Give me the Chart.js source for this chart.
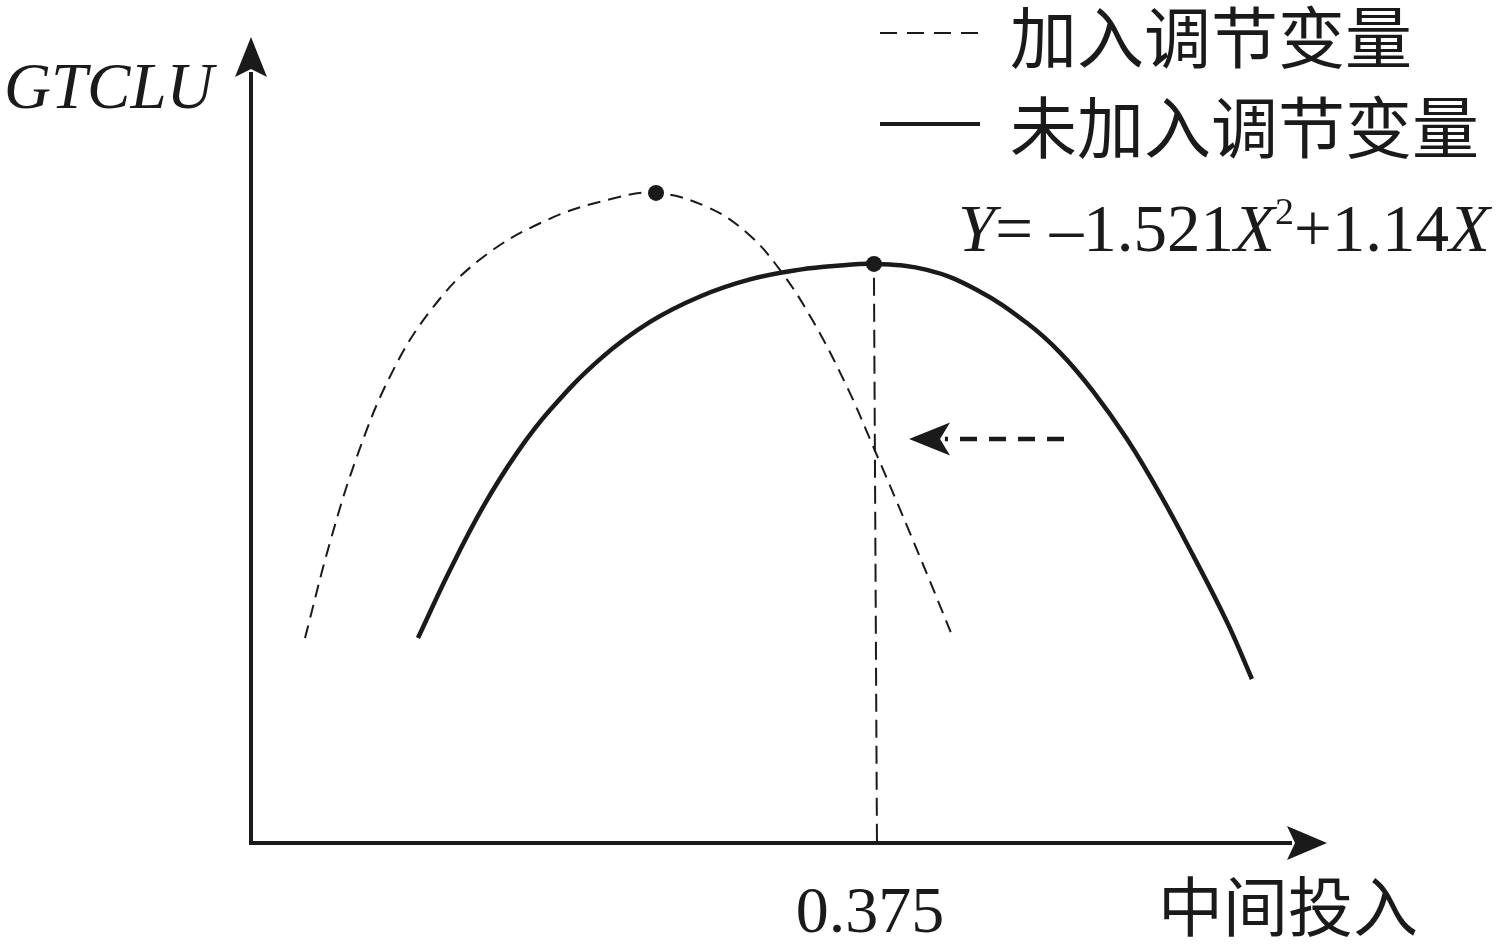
<!DOCTYPE html>
<html>
<head>
<meta charset="utf-8">
<script src="https://cdn.jsdelivr.net/npm/chart.js@4"></script>
<style>
  html, body { margin: 0; padding: 0; background: #ffffff; }
  #wrap { width: 1502px; height: 952px; position: relative; }
</style>
</head>
<body>
<div id="wrap"><canvas id="myChart"></canvas></div>
<script>
// curve without moderator (solid), Y = -1.521X^2 + 1.14X shape as drawn
const solidX = [0.1005, 0.1198, 0.1396, 0.1601, 0.1800, 0.2101, 0.2402, 0.2703, 0.3004, 0.3305, 0.3545, 0.375,
                0.4069, 0.4370, 0.4671, 0.4870, 0.5068, 0.5273, 0.5472, 0.5670, 0.5875, 0.6025];
const solidY = [0.0756, 0.1007, 0.1239, 0.1439, 0.1597, 0.1785, 0.1922, 0.2016, 0.2079, 0.2115, 0.2130, 0.2136,
                0.2114, 0.2040, 0.1918, 0.1809, 0.1667, 0.1490, 0.1287, 0.1062, 0.0815, 0.0605];

// curve with moderator (dashed)
const dashedX = [0.0325, 0.0476, 0.0638, 0.0837, 0.1077, 0.1378, 0.1782, 0.2179, 0.2438, 0.2745, 0.2986,
                 0.3184, 0.3383, 0.3588, 0.3744, 0.3949, 0.4147, 0.4226];
const dashedY = [0.0756, 0.1110, 0.1426, 0.1721, 0.1961, 0.2152, 0.2298, 0.2377, 0.2398, 0.2346, 0.2250,
                 0.2114, 0.1925, 0.1682, 0.1464, 0.1169, 0.0876, 0.0756];

// turning points
const peakX = [0.2438, 0.375];
const peakY = [0.2398, 0.2136];

// guide line down to the axis and the shift arrow
const guideX = [0.375, 0.3768];
const guideY = [0.2085, 0];
const shiftX = [0.4894, 0.4177];
const shiftY = [0.149, 0.149];
const shiftTip = [0.3961, 0.149];

const xTickValues = [0.375];
const xTickLabels = ['0.375'];
const yAxisTitle = 'GTCLU';
const xAxisTitle = '中间投入';
const legendLabels = ['加入调节变量', '未加入调节变量'];

const INK = '#1a1a1a';
const SERIF = '"Liberation Serif", "DejaVu Serif", serif';
const CJK = '"Noto Sans CJK SC", "Noto Sans", sans-serif';

const toPts = (xs, ys) => xs.map((x, i) => ({x: x, y: ys[i]}));

function arrowHead(ctx, tx, ty, dir, len, half, notch) {
    // dir: unit vector pointing toward the tip
    const [dx, dy] = dir;
    const nx = -dy, ny = dx;
    const bx = tx - dx * len, by = ty - dy * len;
    ctx.beginPath();
    ctx.moveTo(tx, ty);
    ctx.lineTo(bx + nx * half, by + ny * half);
    ctx.lineTo(tx - dx * notch, ty - dy * notch);
    ctx.lineTo(bx - nx * half, by - ny * half);
    ctx.closePath();
    ctx.fill();
}

const decorPlugin = {
    id: 'decor',
    afterDraw(chart) {
        const ctx = chart.ctx;
        const xs = chart.scales.x, ys = chart.scales.y;
        const area = chart.chartArea;
        const ox = xs.getPixelForValue(0), oy = ys.getPixelForValue(0);
        ctx.save();
        ctx.fillStyle = INK;
        ctx.strokeStyle = INK;

        // axes
        ctx.lineWidth = 4;
        ctx.setLineDash([]);
        ctx.lineJoin = 'miter';
        ctx.beginPath();
        ctx.moveTo(ox, area.top + 35);
        ctx.lineTo(ox, oy);
        ctx.lineTo(area.right - 35, oy);
        ctx.stroke();
        arrowHead(ctx, ox, area.top, [0, -1], 40, 16, 32);
        arrowHead(ctx, area.right, oy, [1, 0], 40, 17, 32);

        // shift arrow head
        arrowHead(ctx, xs.getPixelForValue(shiftTip[0]), ys.getPixelForValue(shiftTip[1]), [-1, 0], 41, 16.5, 31);

        // tick label
        ctx.font = '66px ' + SERIF;
        ctx.textBaseline = 'alphabetic';
        ctx.textAlign = 'center';
        xTickValues.forEach((v, i) => {
            ctx.fillText(xTickLabels[i], xs.getPixelForValue(v) - 4, oy + 89);
        });

        // axis titles
        ctx.textAlign = 'left';
        ctx.font = 'italic 65px ' + SERIF;
        ctx.fillText(yAxisTitle, 4, 108);
        ctx.font = '65px ' + CJK;
        ctx.textBaseline = 'middle';
        ctx.fillText(xAxisTitle, 1158, 906);

        // legend
        ctx.lineWidth = 2;
        ctx.setLineDash([17, 10]);
        ctx.beginPath();
        ctx.moveTo(880, 33);
        ctx.lineTo(980, 33);
        ctx.stroke();
        ctx.lineWidth = 4;
        ctx.setLineDash([]);
        ctx.beginPath();
        ctx.moveTo(880, 124);
        ctx.lineTo(980, 124);
        ctx.stroke();
        ctx.font = '67px ' + CJK;
        ctx.fillText(legendLabels[0], 1010, 38);
        ctx.fillText(legendLabels[1], 1010, 128);

        // equation
        ctx.textBaseline = 'alphabetic';
        let x = 958;
        const base = 251;
        const piece = (txt, font, dy) => {
            ctx.font = font;
            ctx.fillText(txt, x, base + (dy || 0));
            x += ctx.measureText(txt).width;
        };
        piece('Y', 'italic 67px ' + SERIF);
        piece('= \u2013', '67px ' + SERIF);
        piece('1.521', '67px ' + SERIF);
        piece('X', 'italic 67px ' + SERIF);
        piece('2', '38px ' + SERIF, -27);
        piece('+1.14', '67px ' + SERIF);
        piece('X', 'italic 67px ' + SERIF);

        ctx.restore();
    }
};

const ctx1 = document.getElementById('myChart').getContext('2d');

const myChart = new Chart(ctx1, {
    type: 'scatter',
    data: {
        datasets: [
            {
                label: legendLabels[1],
                data: toPts(solidX, solidY),
                showLine: true,
                borderColor: INK,
                borderWidth: 4.5,
                pointRadius: 0,
                tension: 0.4,
                clip: false
            },
            {
                label: legendLabels[0],
                data: toPts(dashedX, dashedY),
                showLine: true,
                borderColor: INK,
                borderWidth: 2,
                borderDash: [13, 8],
                pointRadius: 0,
                tension: 0.4,
                clip: false
            },
            {
                label: 'guide',
                data: toPts(guideX, guideY),
                showLine: true,
                borderColor: INK,
                borderWidth: 2,
                borderDash: [18, 8],
                pointRadius: 0,
                clip: false
            },
            {
                label: 'shift',
                data: toPts(shiftX, shiftY),
                showLine: true,
                borderColor: INK,
                borderWidth: 4.5,
                borderDash: [17, 12],
                pointRadius: 0,
                clip: false
            },
            {
                label: 'peaks',
                data: toPts(peakX, peakY),
                showLine: false,
                pointRadius: 8,
                pointBackgroundColor: INK,
                pointBorderColor: INK,
                pointBorderWidth: 0,
                clip: false
            }
        ]
    },
    options: {
        responsive: true,
        maintainAspectRatio: false,
        animation: false,
        layout: {
            padding: {left: 251, right: 175, top: 37, bottom: 109}
        },
        plugins: {
            legend: { display: false },
            tooltip: { enabled: false },
            title: { display: false }
        },
        scales: {
            x: {
                type: 'linear',
                display: false,
                min: 0,
                max: 0.6477
            },
            y: {
                type: 'linear',
                display: false,
                min: 0,
                max: 0.2973
            }
        }
    },
    plugins: [decorPlugin]
});
</script>
</body>
</html>
